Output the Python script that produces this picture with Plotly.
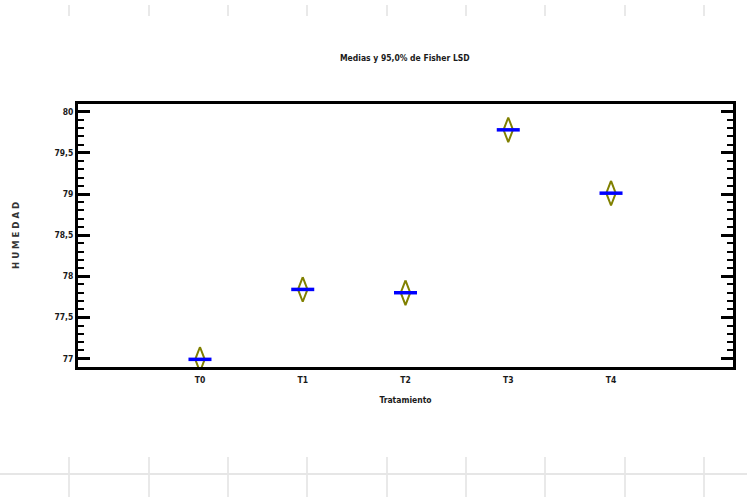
import plotly.graph_objects as go

# Treatment means with 95% Fisher LSD intervals
categories = ["T0", "T1", "T2", "T3", "T4"]
means = [76.99, 77.84, 77.80, 79.78, 79.01]
lsd_half = [0.15, 0.15, 0.15, 0.15, 0.15]

y_ticks = [77, 77.5, 78, 78.5, 79, 79.5, 80]

FONT = "Liberation Sans Narrow, DejaVu Sans Condensed, Arial Narrow, sans-serif"
DIAMOND_W = 0.046   # half width of the interval diamond (x units)
BAR_W = 0.112       # half width of the mean bar (x units)
TXT = "#1a1a1a"

xpos = list(range(len(categories)))

# diamond outlines for the LSD intervals
dx, dy = [], []
for x, m, h in zip(xpos, means, lsd_half):
    dx += [x, x - DIAMOND_W, x, x + DIAMOND_W, x, None]
    dy += [m + h, m, m - h, m, m + h, None]

# horizontal bars at the means
bx, by = [], []
for x, m in zip(xpos, means):
    bx += [x - BAR_W, x + BAR_W, None]
    by += [m, m, None]

fig = go.Figure()
fig.add_trace(go.Scatter(x=dx, y=dy, mode="lines",
                         line=dict(color="#808000", width=2),
                         hoverinfo="skip", showlegend=False))
fig.add_trace(go.Scatter(x=bx, y=by, mode="lines",
                         line=dict(color="#0000FF", width=3.5),
                         hoverinfo="skip", showlegend=False))
# empty trace to carry the right-hand mirrored axis
fig.add_trace(go.Scatter(x=[None], y=[None], yaxis="y2", showlegend=False,
                         hoverinfo="skip"))

yrange = [76.897, 80.094]
tickstyle = dict(ticks="inside", ticklen=12, tickwidth=3, tickcolor="black",
                 minor=dict(dtick=0.1, ticks="inside", ticklen=6, tickwidth=2,
                            tickcolor="black"))

fig.update_layout(
    width=747, height=497,
    margin=dict(l=78, r=14, t=104, b=130),
    paper_bgcolor="white", plot_bgcolor="white",
    separators=",.",
    showlegend=False,
    font=dict(family=FONT, size=8.5, color=TXT, weight="bold"),
    xaxis=dict(range=[-1.187, 5.187], tickvals=xpos, ticktext=categories,
               showgrid=False, zeroline=False, showline=True, linecolor="black",
               linewidth=3, mirror=True, ticks="", ticklabelstandoff=3,
               tickfont=dict(family=FONT, size=8.5, color=TXT, weight="bold"),
               title=dict(text="Tratamiento", standoff=13,
                          font=dict(family=FONT, size=8.5, color=TXT, weight="bold"))),
    yaxis=dict(range=yrange, tickvals=y_ticks, showgrid=False, zeroline=False,
               showline=True, linecolor="black", linewidth=3,
               tickfont=dict(family=FONT, size=8.5, color=TXT, weight="bold"),
               **tickstyle),
    yaxis2=dict(range=yrange, overlaying="y", side="right", tickvals=y_ticks,
                showticklabels=False, showgrid=False, zeroline=False,
                showline=True, linecolor="black", linewidth=3, **tickstyle),
)

# title and vertical axis label
fig.add_annotation(text="Medias y 95,0% de Fisher LSD", xref="paper", yref="paper",
                   x=(405 - 78) / 655, y=1 + (104 - 58) / 263,
                   xanchor="center", yanchor="middle", showarrow=False,
                   font=dict(family=FONT, size=8.5, color=TXT, weight="bold"))
fig.add_annotation(text="H U M E D A D", xref="paper", yref="paper",
                   x=-(78 - 15) / 655, y=(367 - 236) / 263, textangle=-90,
                   xanchor="center", yanchor="middle", showarrow=False,
                   font=dict(family=FONT, size=9.5, color="#333333", weight="bold"))

# faint sheet grid around the chart
grid_x = [69, 149, 228, 307, 387, 466, 545, 625, 704]
def px(x):
    return (x - 78) / 655
def py(y):
    return (367 - y) / 263
for gx in grid_x:
    fig.add_shape(type="line", xref="paper", yref="paper",
                  x0=px(gx), x1=px(gx), y0=py(5), y1=py(16),
                  line=dict(color="#e2e2e2", width=1.5), layer="below")
    fig.add_shape(type="line", xref="paper", yref="paper",
                  x0=px(gx), x1=px(gx), y0=py(457), y1=py(497),
                  line=dict(color="#e2e2e2", width=1.5), layer="below")
fig.add_shape(type="line", xref="paper", yref="paper",
              x0=px(0), x1=px(747), y0=py(474), y1=py(474),
              line=dict(color="#e6e6e6", width=2), layer="below")

fig.write_html("out.html")
